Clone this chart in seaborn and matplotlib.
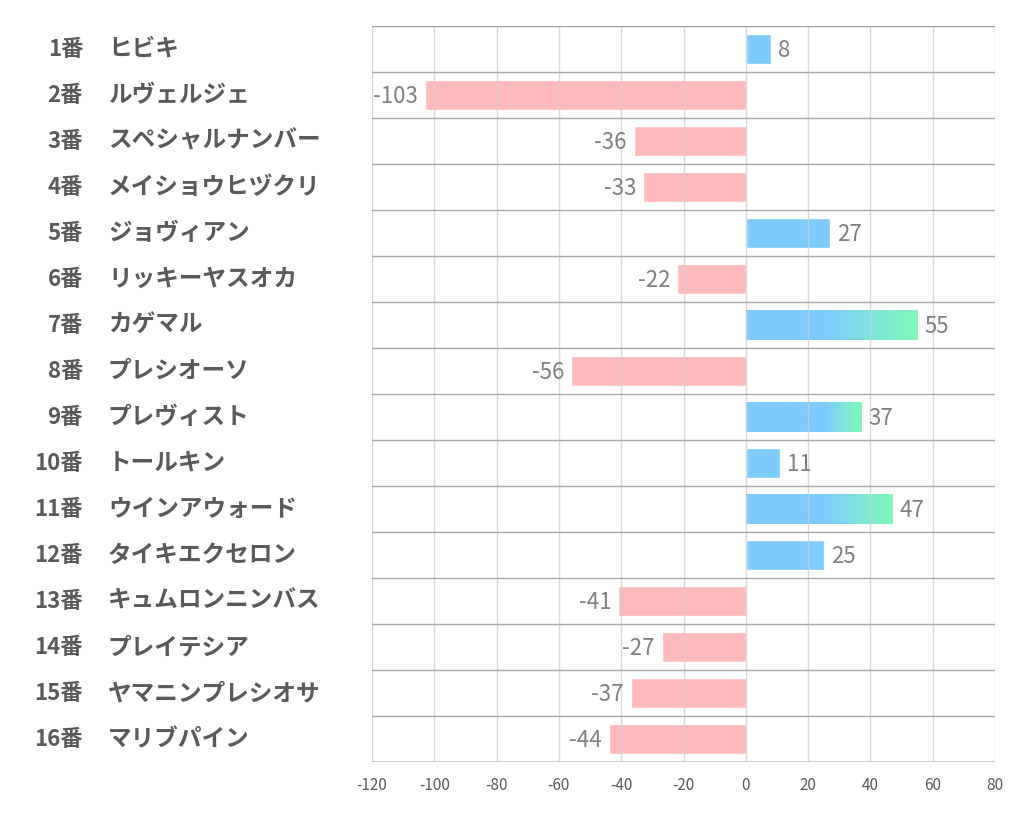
import numpy as np
import matplotlib
matplotlib.use("Agg")
import matplotlib.pyplot as plt
import seaborn as sns
from matplotlib.colors import LinearSegmentedColormap

# data
numbers = [f"{i}番" for i in range(1, 17)]
names = ["ヒビキ", "ルヴェルジェ", "スペシャルナンバー", "メイショウヒヅクリ", "ジョヴィアン",
         "リッキーヤスオカ", "カゲマル", "プレシオーソ", "プレヴィスト", "トールキン",
         "ウインアウォード", "タイキエクセロン", "キュムロンニンバス", "プレイテシア",
         "ヤマニンプレシオサ", "マリブパイン"]
values = [8, -103, -36, -33, 27, -22, 55, -56, 37, 11, 47, 25, -41, -27, -37, -44]
xticks = [-120, -100, -80, -60, -40, -20, 0, 20, 40, 60, 80]

BLUE = "#7ecbff"
PINK = "#ffb9ba"
GREEN = "#7efab9"
TEXT = "#595959"
VAL = "#7f7f7f"

sns.set_style("white")
plt.rcParams["font.family"] = ["Noto Sans CJK JP", "DejaVu Sans"]

fig = plt.figure(figsize=(10.22, 8.34), dpi=100)
ax = fig.add_axes([372 / 1022, 1 - 762 / 834, 623 / 1022, 736 / 834])

colors = [BLUE if v >= 0 else PINK for v in values]
sns.barplot(x=values, y=names, hue=names, palette=colors, orient="h",
            width=0.66, legend=False, ax=ax, saturation=1)

ax.set_xlim(-120, 80)
ax.set_ylim(len(names) - 0.5, -0.5)

# gradient fill on the bigger positive bars
cmap = LinearSegmentedColormap.from_list("bg", [BLUE, GREEN])
for patch, v in zip(ax.patches, values):
    if v > 30:
        x0, y0 = patch.get_x(), patch.get_y()
        w, h = patch.get_width(), patch.get_height()
        xs = np.linspace(x0, x0 + w, 300)
        grad = np.clip((xs - 25) / (x0 + w - 25), 0, 1)[None, :]
        im = ax.imshow(grad, cmap=cmap, aspect="auto", extent=(x0, x0 + w, y0 + h, y0),
                       zorder=patch.get_zorder() + 0.1, interpolation="bilinear")
        im.set_clip_path(patch)
        ax.set_xlim(-120, 80)
        ax.set_ylim(len(names) - 0.5, -0.5)

# grid
for x in xticks:
    ax.axvline(x, color="#d0d0d0", lw=1, zorder=5, alpha=0.8)
for y in np.arange(-0.5, len(names) - 1, 1.0):
    ax.axhline(y, color="#a6a6a6", lw=1, zorder=6)
ax.axhline(len(names) - 0.5, color="#bfbfbf", lw=1.2, zorder=6)

for s in ax.spines.values():
    s.set_visible(False)

ax.set_xticks(xticks)
ax.set_xticklabels([str(t) for t in xticks], color=TEXT, fontsize=11)
ax.tick_params(axis="x", length=0, pad=11)
ax.set_yticks(range(len(names)))
ax.set_yticklabels([])
ax.tick_params(axis="y", length=0)
ax.set_xlabel("")
ax.set_ylabel("")

# row labels
trans = matplotlib.transforms.blended_transform_factory(fig.transFigure, ax.transData)
for i, (n, name) in enumerate(zip(numbers, names)):
    ax.text(83 / 1022, i, n, transform=trans, ha="right", va="center",
            fontsize=16, fontweight="bold", color=TEXT, clip_on=False)
    ax.text(108 / 1022, i, name, transform=trans, ha="left", va="center",
            fontsize=17, fontweight="bold", color=TEXT, clip_on=False)

# value labels
for i, v in enumerate(values):
    if v >= 0:
        ax.annotate(str(v), (v, i), xytext=(5, -1), textcoords="offset points",
                    ha="left", va="center", fontsize=16, color=VAL, zorder=10)
    else:
        ax.annotate(str(v), (v, i), xytext=(-5, -1), textcoords="offset points",
                    ha="right", va="center", fontsize=16, color=VAL, zorder=10)

fig.savefig("out.png", dpi=100, facecolor="white")
